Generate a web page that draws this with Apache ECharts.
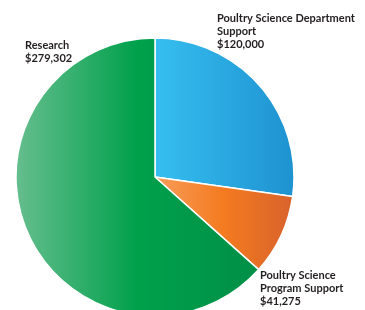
<!DOCTYPE html>
<html><head><meta charset="utf-8">
<script src="https://cdn.jsdelivr.net/npm/echarts@6/dist/echarts.min.js"></script>
<style>html,body{margin:0;padding:0;background:#fff}#c{width:365px;height:310px}</style>
</head><body><div id="c"></div>
<script>
const categories = ["Poultry Science Department\nSupport", "Poultry Science\nProgram Support", "Research"];
const values = [120000, 41275, 279302];
const gradients = [
  ['#36bff0', '#2aa8e0', '#1e92d0'],
  ['#f89d5a', '#f47b20', '#d8622c'],
  ['#66be8e', '#00a04b', '#008f47']
];
const labelPos = [
  {x: 217, y: 12},
  {x: 260, y: 269},
  {x: 25, y: 39}
];
const chart = echarts.init(document.getElementById('c'));
chart.setOption({
  animation: false,
  series: [{
    type: 'pie',
    center: [155, 177],
    radius: [0, 139],
    startAngle: 90,
    clockwise: true,
    avoidLabelOverlap: false,
    itemStyle: {borderColor: '#fff', borderWidth: 1.5},
    label: {
      show: true,
      position: 'outside',
      formatter: p => p.name + '\n$' + p.value.toLocaleString('en-US'),
      fontFamily: 'Lato',
      fontWeight: 'bold',
      fontSize: 11,
      lineHeight: 13,
      color: '#231f20',
      align: 'left',
      overflow: 'none',
      width: 200
    },
    labelLine: {show: false},
    labelLayout: p => ({x: labelPos[p.dataIndex].x, y: labelPos[p.dataIndex].y, align: 'left', verticalAlign: 'top', hideOverlap: false}),
    data: categories.map((n, i) => ({
      name: n, value: values[i],
      itemStyle: {color: {type: 'linear', x: 0, y: 0, x2: 1, y2: 0, colorStops: [
        {offset: 0, color: gradients[i][0]}, {offset: 0.5, color: gradients[i][1]}, {offset: 1, color: gradients[i][2]}]}}
    }))
  }]
});
</script></body></html>
